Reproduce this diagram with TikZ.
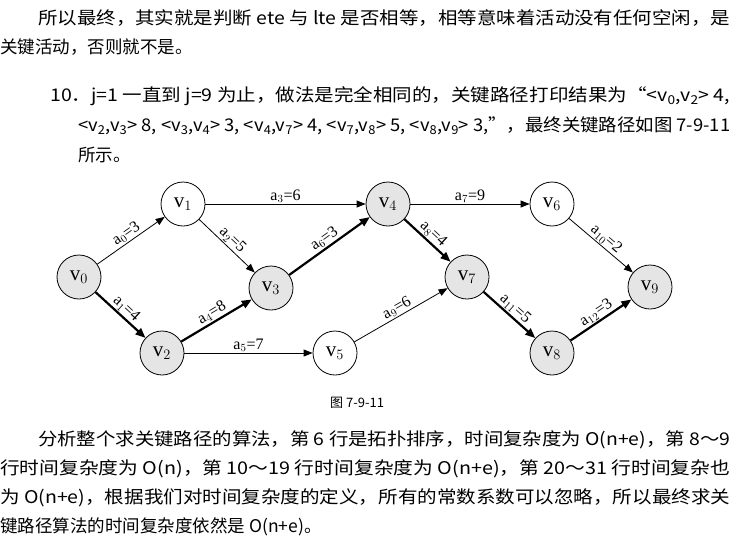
\documentclass[tikz,border=0pt]{standalone}
\usepackage{fontspec}
\usepackage{graphicx}
\setmainfont{Liberation Serif}
\newfontfamily\cjk{Noto Sans CJK SC}
\usetikzlibrary{arrows.meta}
\newcommand{\fitw}[2]{\resizebox{#1}{\height}{#2}}
\begin{document}
\begin{tikzpicture}[x=1pt,y=-1pt,
  vx/.style={circle,draw,line width=0.8pt,minimum size=44pt,inner sep=0pt,font=\fontsize{21}{21}\selectfont},
  crit/.style={fill=black!10},
  thin/.style={-{Triangle[length=9pt,width=7pt]},line width=0.8pt},
  thick/.style={-{Triangle[length=10pt,width=8pt]},line width=2.2pt},
  lab/.style={sloped,above,inner sep=1pt,font=\fontsize{16}{16}\selectfont},
  txt/.style={anchor=west,inner sep=0pt,font=\cjk\fontsize{17.5}{17.5}\selectfont}]
\useasboundingbox (0,0) rectangle (751,544);
\node[txt] (t1) at (38,18) {\fitw{692pt}{所以最终，其实就是判断 ete 与 lte 是否相等，相等意味着活动没有任何空闲，是}};
\node[txt] (t2) at (0,47) {关键活动，否则就不是。};
\node[txt] (t3) at (50,96) {\fitw{680pt}{10．j=1 一直到 j=9 为止，做法是完全相同的，关键路径打印结果为“<v\textsubscript{0},v\textsubscript{2}> 4,}};
\node[txt] (t4) at (78,126) {\fitw{652pt}{<v\textsubscript{2},v\textsubscript{3}> 8, <v\textsubscript{3},v\textsubscript{4}> 3, <v\textsubscript{4},v\textsubscript{7}> 4, <v\textsubscript{7},v\textsubscript{8}> 5, <v\textsubscript{8},v\textsubscript{9}> 3,”，最终关键路径如图 7-9-11}};
\node[txt] (t5) at (78,155) {所示。};
\node[txt,font=\cjk\fontsize{13}{13}\selectfont] (cap) at (330,403) {图 7-9-11};
\node[txt] (p1) at (38,440) {\fitw{692pt}{分析整个求关键路径的算法，第 6 行是拓扑排序，时间复杂度为 O(\textit{n}+\textit{e})，第 8～9}};
\node[txt] (p2) at (0,469) {\fitw{730pt}{行时间复杂度为 O(\textit{n})，第 10～19 行时间复杂度为 O(\textit{n}+\textit{e})，第 20～31 行时间复杂也}};
\node[txt] (p3) at (0,498) {\fitw{730pt}{为 O(\textit{n}+\textit{e})，根据我们对时间复杂度的定义，所有的常数系数可以忽略，所以最终求关}};
\node[txt] (p4) at (0,527) {键路径算法的时间复杂度依然是 O(\textit{n}+\textit{e})。};

\node[vx,crit] (v0) at (79,277) {v$_0$};
\node[vx] (v1) at (183,204) {v$_1$};
\node[vx,crit] (v2) at (162,353) {v$_2$};
\node[vx,crit] (v3) at (271,288) {v$_3$};
\node[vx,crit] (v4) at (388,204) {v$_4$};
\node[vx] (v5) at (335,353) {v$_5$};
\node[vx] (v6) at (552,204) {v$_6$};
\node[vx,crit] (v7) at (467,277) {v$_7$};
\node[vx,crit] (v8) at (552,353) {v$_8$};
\node[vx,crit] (v9) at (650,287) {v$_9$};

\draw[thin] (v0) -- node[lab]{a$_0$=3} (v1);
\draw[thick] (v0) -- node[lab]{a$_1$=4} (v2);
\draw[thin] (v1) -- node[lab]{a$_2$=5} (v3);
\draw[thin] (v1) -- node[lab]{a$_3$=6} (v4);
\draw[thick] (v2) -- node[lab]{a$_4$=8} (v3);
\draw[thin] (v2) -- node[lab]{a$_5$=7} (v5);
\draw[thick] (v3) -- node[lab]{a$_6$=3} (v4);
\draw[thin] (v4) -- node[lab]{a$_7$=9} (v6);
\draw[thick] (v4) -- node[lab]{a$_8$=4} (v7);
\draw[thin] (v5) -- node[lab]{a$_9$=6} (v7);
\draw[thin] (v6) -- node[lab]{a$_{10}$=2} (v9);
\draw[thick] (v7) -- node[lab]{a$_{11}$=5} (v8);
\draw[thick] (v8) -- node[lab]{a$_{12}$=3} (v9);
\end{tikzpicture}
\end{document}
